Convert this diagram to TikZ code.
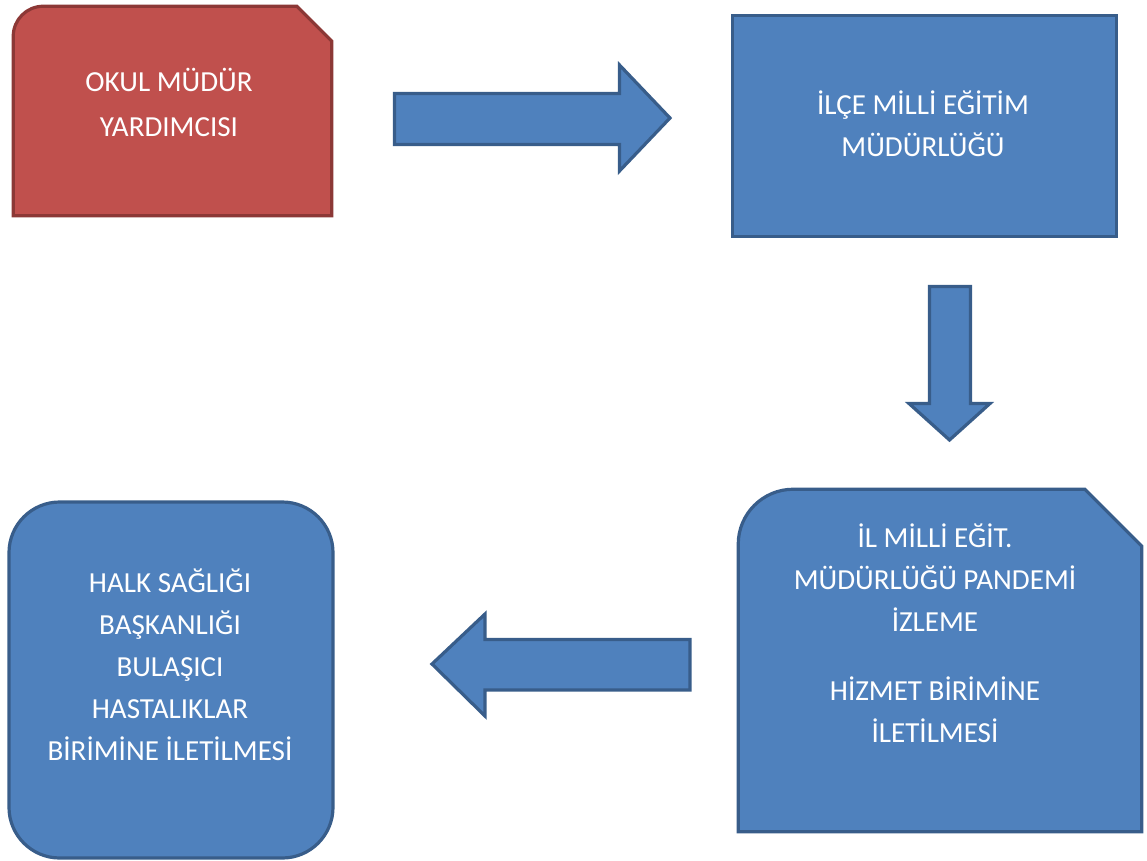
\documentclass[tikz,border=0pt]{standalone}
\usepackage{fontspec}
\setmainfont{Carlito}
\usepackage{tikz}
\usetikzlibrary{
positioning,%
calc
}
\definecolor{redfill}{HTML}{C0504D}
\definecolor{redline}{HTML}{8C3836}
\definecolor{bluefill}{HTML}{4F81BD}
\definecolor{blueline}{HTML}{385D8A}
\tikzset{
    box/.style={inner sep=0pt},
    redbox/.style={draw=redline, fill=redfill, line width=2.4pt},
    bluebox/.style={draw=blueline, fill=bluefill, line width=2.4pt},
    barrow/.style={draw=blueline, fill=bluefill, line width=2.4pt},
    txt/.style={text=white, align=center, font=\fontsize{21.8}{31.5}\selectfont}
}

\begin{document}
\begin{tikzpicture}[x=0.75pt, y=-0.75pt]
            \useasboundingbox (0,0) rectangle (1147,861);
            \node[box, minimum width=238.5pt, minimum height=156.75pt] (okul) at (172.5,111) {};
            \node[box, bluebox, minimum width=288pt, minimum height=165.75pt] (ilce) at (924.5,126) {};
            \node[box, minimum width=302.25pt, minimum height=256.5pt] (ilmem) at (940,660.5) {};
            \node[box, bluebox, rounded corners=38pt, minimum width=243pt, minimum height=267pt] (halk) at (171,680) {};
            % ----
            \path[redbox]
            (okul.south west) --
            ($(okul.north west)+(0,30)$) arc[start angle=180, end angle=90, radius=22.5pt] --
            ($(okul.north east)+(-35,0)$) --
            ($(okul.north east)+(0,35)$) --
            (okul.south east) --
            cycle;
            % ----
            \path[bluebox]
            (ilmem.south west) --
            ($(ilmem.north west)+(0,55)$) arc[start angle=180, end angle=90, radius=41.25pt] --
            ($(ilmem.north east)+(-57,0)$) --
            ($(ilmem.north east)+(0,57)$) --
            (ilmem.south east) --
            cycle;
            % ---- block arrows
            \path[barrow] (394.5,93.5) -- (619.5,93.5) -- (619.5,65) -- (670,118) -- (619.5,171) -- (619.5,144.5) -- (394.5,144.5) -- cycle;
            \path[barrow] (929.5,286.5) -- (970.5,286.5) -- (970.5,403.5) -- (990,403.5) -- (949.5,440) -- (909,403.5) -- (929.5,403.5) -- cycle;
            \path[barrow] (690,639.5) -- (485,639.5) -- (485,614) -- (432,664) -- (485,716) -- (485,690) -- (690,690) -- cycle;
            % ---- texts
            \node[txt, font=\fontsize{21.8}{33.75}\selectfont] (okul-t) at (169,102.5) {OKUL MÜDÜR\\YARDIMCISI};
            \node[txt] (ilce-t) at (923,123.5) {İLÇE MİLLİ EĞİTİM\\MÜDÜRLÜĞÜ};
            \node[txt] (ilmem-t) at (935,633) {İL MİLLİ EĞİT.\\MÜDÜRLÜĞÜ PANDEMİ\\İZLEME\\[20pt] HİZMET BİRİMİNE\\İLETİLMESİ};
            \node[txt] (halk-t) at (170,664.5) {HALK SAĞLIĞI\\BAŞKANLIĞI\\BULAŞICI\\HASTALIKLAR\\BİRİMİNE İLETİLMESİ};
\end{tikzpicture}
\end{document}
